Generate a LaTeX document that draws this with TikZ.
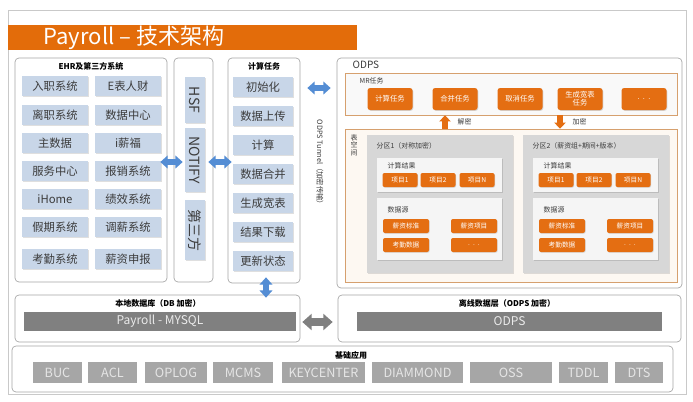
\documentclass[tikz,border=0pt]{standalone}
\usepackage{fontspec}
\setmainfont{Noto Sans CJK SC}
\usetikzlibrary{positioning}
\usetikzlibrary{fit}
\usetikzlibrary{shadows}
\usetikzlibrary{arrows.meta}
\definecolor{titleorange}{RGB}{227,108,10}
\definecolor{taskorange}{RGB}{228,110,18}
\definecolor{boxblue}{RGB}{200,214,232}
\definecolor{arrowblue}{RGB}{84,141,212}
\definecolor{bargray}{RGB}{128,128,128}
\definecolor{appgray}{RGB}{166,166,166}
\definecolor{partgray}{RGB}{215,215,215}
\definecolor{linegray}{RGB}{165,165,165}
\definecolor{mrline}{RGB}{214,160,110}
\definecolor{tablefill}{RGB}{253,248,242}
\definecolor{textgray}{RGB}{60,60,60}
\tikzset{
  wd/.style={minimum width=(#1)*0.75pt},
  ht/.style={minimum height=(#1)*0.75pt},
  panel/.style={draw=linegray, fill=white, rounded corners=3pt, inner sep=0pt, line width=0.5pt},
  headlbl/.style={font=\fontsize{6}{7}\selectfont\bfseries, text=black},
  smalltxt/.style={font=\fontsize{5.2}{6}\selectfont, text=textgray},
  bluebox/.style={fill=boxblue, text=textgray, inner sep=0pt, wd=66, ht=20,
    font=\fontsize{8.5}{9}\selectfont,
    drop shadow={shadow xshift=0.6pt, shadow yshift=-0.6pt, opacity=0.25}},
  taskbox/.style={fill=taskorange, text=white, rounded corners=2pt, inner sep=0pt, wd=45, ht=22,
    align=center, font=\fontsize{5.5}{6}\selectfont,
    drop shadow={shadow xshift=0.6pt, shadow yshift=-0.6pt, opacity=0.3}},
  itembox/.style={fill=taskorange, text=white, rounded corners=1.5pt, inner sep=0pt, ht=14,
    font=\fontsize{5}{5}\selectfont,
    drop shadow={shadow xshift=0.5pt, shadow yshift=-0.5pt, opacity=0.3}},
  partbox/.style={fill=partgray, inner sep=0pt,
    drop shadow={shadow xshift=0.8pt, shadow yshift=-0.8pt, opacity=0.25}},
  innerbox/.style={fill=gray!8, inner sep=0pt,
    drop shadow={shadow xshift=0.6pt, shadow yshift=-0.6pt, opacity=0.3}},
  bar/.style={fill=bargray, text=white!92!black, inner sep=0pt, ht=19, font=\fontsize{9}{9}\selectfont},
  appbox/.style={fill=appgray, text=white!90!black, inner sep=0pt, ht=21, font=\fontsize{9.5}{10}\selectfont},
  barrow/.style={draw=arrowblue, line width=4.5pt,
    {Triangle[width=9.5pt,length=5.5pt]}-{Triangle[width=9.5pt,length=5.5pt]}},
  garrow/.style={draw=bargray, line width=6pt,
    {Triangle[width=12pt,length=7pt]}-{Triangle[width=12pt,length=7pt]}},
  oarrow/.style={draw=taskorange, line width=4pt, -{Triangle[width=8.5pt,length=4.5pt]}}
}
\begin{document}
\begin{tikzpicture}[x=0.75pt, y=-0.75pt]
    \useasboundingbox (0,0) rectangle (693,401);
    \fill[white] (0,0) rectangle (693,401);
    \draw[linegray!60, line width=0.4pt] (8,10) rectangle (686,394);
    % title
    \fill[titleorange] (8,25) rectangle (357,50);
    \node[anchor=west, text=white, font=\fontsize{16.5}{17}\selectfont] (title) at (39,37.5) {Payroll – 技术架构};

    % EHR
    \node[panel, fit={(15,58) (167,282)}] (ehr) {};
    \node[headlbl] (ehrcap) at (91,66) {EHR及第三方系统};
    \foreach \y/\l/\r [count=\i] in {86/入职系统/E表人财, 115/离职系统/数据中心, 143/主数据/i薪福,
        171/服务中心/报销系统, 199/iHome/绩效系统, 227/假期系统/调薪系统, 259/考勤系统/薪资申报} {
        \node[bluebox] (ehrl\i) at (55,\y) {\l};
        \node[bluebox] (ehrr\i) at (128,\y) {\r};
    }

    % middleware
    \node[panel, fit={(174,58) (213,282)}] (mw) {};
    \foreach \y/\h/\t [count=\i] in {100/46/HSF, 160/64/NOTIFY, 230/60/第三方}
        \node[bluebox, rotate=-90, wd=\h, ht=20, font=\fontsize{10.5}{11}\selectfont] (mw\i) at (195,\y) {\t};

    % calc tasks
    \node[panel, fit={(228,58) (300,283)}] (calc) {};
    \node[headlbl] (calccap) at (264,66) {计算任务};
    \foreach \t [count=\i] in {初始化, 数据上传, 计算, 数据合并, 生成宽表, 结果下载, 更新状态}
        \node[bluebox, wd=60] (calc\i) at (263,58+29*\i) {\t};

    \node[rotate=-90, smalltxt, font=\fontsize{5.5}{6}\selectfont] (tunnel) at (320,164) {ODPS Tunnel（加密传输）};

    % ODPS
    \node[panel, fit={(337,58) (682,288)}] (odps) {};
    \node[anchor=west, font=\fontsize{7.5}{8}\selectfont, text=textgray] (odpscap) at (348,65) {ODPS};
    \node[draw=mrline, fill=gray!5, line width=0.6pt, inner sep=0pt, fit={(345,73) (677,115)}] (mr) {};
    \node[smalltxt, anchor=west] (mrcap) at (355,81) {MR任务};
    \foreach \x/\t [count=\i] in {390/计算任务, 455/合并任务, 520/取消任务, 580/{生成宽表\\任务}, 644/{.\ \ .\ \ .}}
        \node[taskbox] (mr\i) at (\x,99) {\t};
    \node[draw=mrline, fill=tablefill, line width=0.6pt, inner sep=0pt, fit={(345,129) (677,282)}] (tbs) {};
    \node[smalltxt, align=center, inner sep=0pt, font=\fontsize{5.2}{5.6}\selectfont] (tbscap) at (354,145) {表\\空\\间};
    \draw[oarrow] (tbs.north -| 445,0) -- (mr.south -| 445,0);
    \draw[oarrow] (mr.south -| 560,0) -- (tbs.north -| 560,0);
    \node[smalltxt, anchor=west] (dec) at (453,122) {解密};
    \node[smalltxt, anchor=west] (enc) at (568,122) {加密};

    \foreach \o/\p/\lbl in {0/1/{分区1（对称加密）}, 156/2/{分区2（薪资组+期间+版本）}} {
        \node[partbox, fit={(367+\o,135) (513+\o,273)}] (part\p) {};
        \node[smalltxt, anchor=west] (partcap\p) at (372+\o,146) {\lbl};
        \node[innerbox, fit={(377+\o,158) (502+\o,192)}] (res\p) {};
        \node[smalltxt, anchor=west] (rescap\p) at (383+\o,166) {计算结果};
        \foreach \x/\t [count=\j] in {400/项目1, 438/项目2, 477/项目N}
            \node[itembox, wd=35] (res\p-\j) at (\x+\o,180) {\t};
        \node[innerbox, fit={(377+\o,198) (502+\o,260)}] (src\p) {};
        \node[smalltxt, anchor=west] (srccap\p) at (383+\o,210) {数据源};
        \foreach \x/\y/\t [count=\j] in {406/226/薪资标准, 474/226/薪资项目, 406/245/考勤数据, 474/245/{.\ \ .\ \ .}}
            \node[itembox, wd=46] (src\p-\j) at (\x+\o,\y) {\t};
    }

    % storage
    \node[panel, fit={(15,295) (300,342)}] (localdb) {};
    \node[headlbl] (localcap) at (158,303) {本地数据库（DB 加密）};
    \node[bar, wd=272] (mysql) at (160,321.5) {Payroll - MYSQL};
    \node[panel, fit={(338,295) (681,342)}] (odpsdb) {};
    \node[headlbl] (odpsdbcap) at (507,303) {离线数据层（ODPS 加密）};
    \node[bar, wd=305] (odpsbar) at (509.5,321.5) {ODPS};

    % base apps
    \node[panel, fit={(12,346) (673,392)}] (base) {};
    \node[headlbl] (basecap) at (351,355) {基础应用};
    \foreach \a/\b/\t [count=\i] in {33/82/BUC, 88/137/ACL, 145/207/OPLOG, 213/273/MCMS, 282/365/KEYCENTER,
        372/463/DIAMMOND, 470/552/OSS, 559/608/TDDL, 615/663/DTS}
        \node[appbox, wd=\b-\a] (app\i) at ({(\a+\b)/2},372.5) {\t};

    % connectors
    \draw[barrow, shorten <=-5.25pt, shorten >=-6.75pt] (ehr.east |- 0,162) -- (mw.west |- 0,162);
    \draw[barrow, shorten <=-3.75pt, shorten >=-3pt] (mw.east |- 0,162) -- (calc.west |- 0,162);
    \draw[barrow, shorten <=5.25pt, shorten >=4.5pt] (calc.east |- 0,88) -- (odps.west |- 0,88);
    \draw[barrow, shorten <=-4.5pt, shorten >=-2.25pt] (calc.south -| 266,0) -- (localdb.north -| 266,0);
    \draw[garrow, shorten <=1.5pt, shorten >=3.75pt] (localdb.east |- 0,322) -- (odpsdb.west |- 0,322);
\end{tikzpicture}
\end{document}
